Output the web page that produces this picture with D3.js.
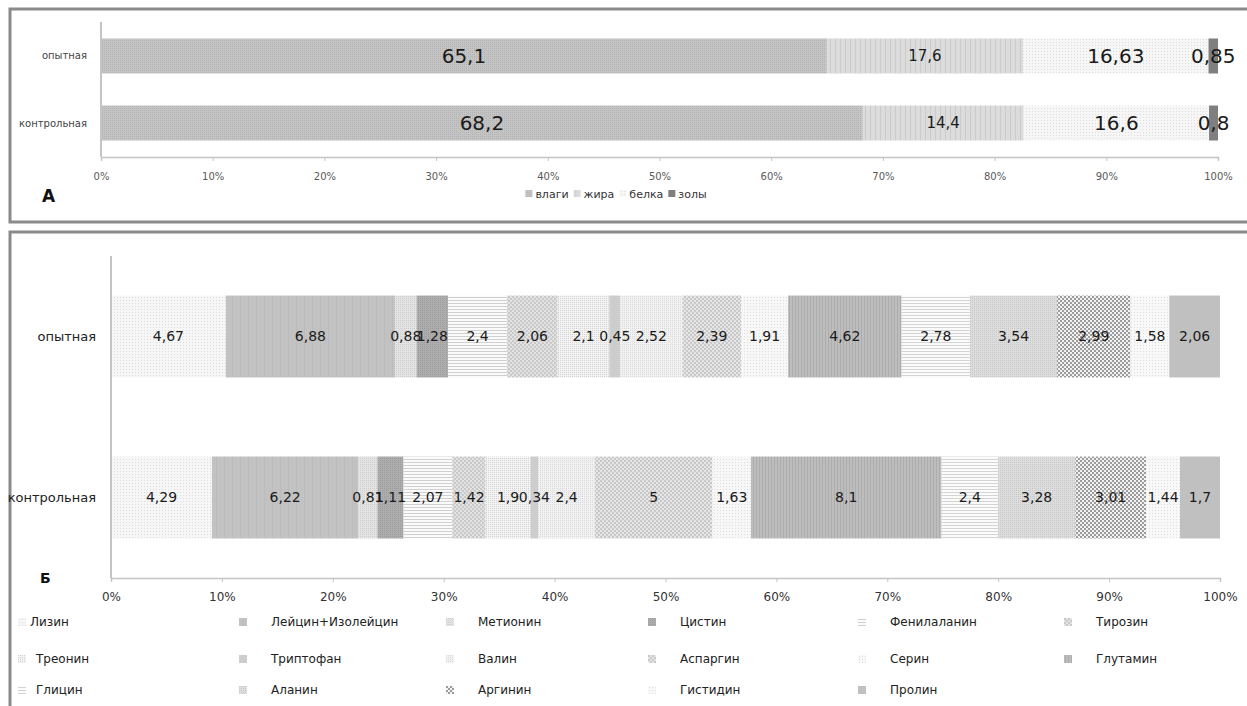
<!DOCTYPE html>
<html>
<head>
<meta charset="utf-8">
<script src="https://cdn.jsdelivr.net/npm/d3@7"></script>
<style>
	body { margin: 0; background: #fff; }
	svg { display: block; font-family: "DejaVu Sans", sans-serif; }
</style>
</head>
<body>
<svg id="chart" width="1247" height="706"></svg>
<script>
// -------------- DATA --------------
const groups = ["опытная", "контрольная"];

// panel A: composition
const partsA = ["влаги", "жира", "белка", "золы"];
const opytA = [65.1, 17.6, 16.63, 0.85];
const kontrA = [68.2, 14.4, 16.6, 0.8];

// panel B: amino acids
const amino = [
	"Лизин", "Лейцин+Изолейцин", "Метионин", "Цистин", "Фенилаланин", "Тирозин",
	"Треонин", "Триптофан", "Валин", "Аспаргин", "Серин", "Глутамин",
	"Глицин", "Аланин", "Аргинин", "Гистидин", "Пролин"
];
const opytB = [4.67, 6.88, 0.88, 1.28, 2.4, 2.06, 2.1, 0.45, 2.52, 2.39, 1.91, 4.62, 2.78, 3.54, 2.99, 1.58, 2.06];
const kontrB = [4.29, 6.22, 0.81, 1.11, 2.07, 1.42, 1.9, 0.34, 2.4, 5, 1.63, 8.1, 2.4, 3.28, 3.01, 1.44, 1.7];

const tickVals = [0, 0.1, 0.2, 0.3, 0.4, 0.5, 0.6, 0.7, 0.8, 0.9, 1];

// -------------- STYLES (pattern fills) --------------
const stylesA = [
	{ type: "dots", base: "#c4c4c4", ink: "#b3b3b3", s: 2 },
	{ type: "vlines", base: "#dcdcdc", ink: "#cbcbcb", s: 5 },
	{ type: "dots", base: "#f6f6f6", ink: "#dddddd", s: 3 },
	{ type: "solid", base: "#7f7f7f" }
];
const labelSizeA = [20, 15, 20, 20];

const stylesB = [
	{ type: "dots", base: "#f6f6f6", ink: "#dddddd", s: 3 },
	{ type: "vlines", base: "#c2c2c2", ink: "#bcbcbc", s: 8 },
	{ type: "dots", base: "#e3e3e3", ink: "#cdcdcd", s: 2 },
	{ type: "dots", base: "#adadad", ink: "#9c9c9c", s: 2 },
	{ type: "hlines", base: "#fbfbfb", ink: "#d0d0d0", s: 3 },
	{ type: "checker", base: "#e2e2e2", ink: "#c9c9c9", s: 2 },
	{ type: "dots", base: "#f3f3f3", ink: "#d3d3d3", s: 2 },
	{ type: "solid", base: "#cdcdcd" },
	{ type: "dots", base: "#f1f1f1", ink: "#dadada", s: 2 },
	{ type: "checker", base: "#e6e6e6", ink: "#c8c8c8", s: 2 },
	{ type: "dots", base: "#f7f7f7", ink: "#dfdfdf", s: 3 },
	{ type: "vlines", base: "#bdbdbd", ink: "#adadad", s: 3 },
	{ type: "hlines", base: "#fbfbfb", ink: "#d4d4d4", s: 3 },
	{ type: "dots", base: "#dddddd", ink: "#c8c8c8", s: 2 },
	{ type: "checker", base: "#f2f2f2", ink: "#9c9c9c", s: 2 },
	{ type: "dots", base: "#f8f8f8", ink: "#e0e0e0", s: 3 },
	{ type: "solid", base: "#c0c0c0" }
];

const svg = d3.select("#chart");
const defs = svg.append("defs");

function makePattern(id, st) {
	if (st.type === "solid") return st.base;
	let s = st.s;
	let size = st.type === "checker" ? s * 2 : s;
	let p = defs.append("pattern")
		.attr("id", id)
		.attr("patternUnits", "userSpaceOnUse")
		.attr("width", size)
		.attr("height", size);
	p.append("rect").attr("width", size).attr("height", size).attr("fill", st.base);
	if (st.type === "dots") {
		p.append("rect").attr("width", 1).attr("height", 1).attr("fill", st.ink);
	} else if (st.type === "hlines") {
		p.append("rect").attr("width", size).attr("height", 1).attr("fill", st.ink);
	} else if (st.type === "vlines") {
		p.append("rect").attr("width", 1).attr("height", size).attr("fill", st.ink);
	} else if (st.type === "checker") {
		p.append("rect").attr("width", s).attr("height", s).attr("fill", st.ink);
		p.append("rect").attr("x", s).attr("y", s).attr("width", s).attr("height", s).attr("fill", st.ink);
	}
	return `url(#${id})`;
}

const fillsA = stylesA.map((st, i) => makePattern(`pa${i}`, st));
const fillsB = stylesB.map((st, i) => makePattern(`pb${i}`, st));

const fmt = (v) => String(v).replace(".", ",");

// -------------- FRAMES --------------
svg.append("rect")
	.attr("x", 10).attr("y", 9).attr("width", 1260).attr("height", 213)
	.attr("fill", "none").attr("stroke", "#8a8a8a").attr("stroke-width", 3);
svg.append("rect")
	.attr("x", 10).attr("y", 232).attr("width", 1260).attr("height", 520)
	.attr("fill", "none").attr("stroke", "#8a8a8a").attr("stroke-width", 3);

// -------------- GENERIC STACKED BAR PANEL --------------
function drawPanel(cfg) {
	let rows = groups.map((g, gi) => {
		let o = { group: g };
		cfg.keys.forEach((k, ki) => (o[k] = cfg.values[gi][ki]));
		return o;
	});

	let stack = d3.stack().keys(cfg.keys).offset(d3.stackOffsetExpand);
	let series = stack(rows);
	let cells = series.flatMap((s) => s.map((v) => ({ v, key: s.key, idx: s.index })));

	let xScale = d3.scaleLinear().domain([0, 1]).range([cfg.x0, cfg.x1]);
	let yScale = d3.scaleBand().domain(groups).range([cfg.yTop, cfg.yBottom]).paddingInner(cfg.pad).paddingOuter(cfg.padOuter);

	let g = svg.append("g");

	// bars
	g.append("g")
		.selectAll("rect")
		.data(cells)
		.join("rect")
		.attr("x", (d) => xScale(d.v[0]))
		.attr("y", (d) => yScale(d.v.data.group))
		.attr("width", (d) => xScale(d.v[1]) - xScale(d.v[0]))
		.attr("height", yScale.bandwidth())
		.attr("fill", (d) => cfg.fills[d.idx]);

	// value labels (on top of all bars)
	g.append("g")
		.selectAll("text")
		.data(cells)
		.join("text")
		.attr("x", (d) => (xScale(d.v[0]) + xScale(d.v[1])) / 2)
		.attr("y", (d) => yScale(d.v.data.group) + yScale.bandwidth() / 2)
		.attr("dy", "0.35em")
		.attr("text-anchor", "middle")
		.attr("font-size", (d) => cfg.labelSize(d.idx))
		.attr("fill", "#1a1a1a")
		.text((d) => fmt(d.v.data[d.key]));

	// axes
	let xAxis = d3.axisBottom(xScale)
		.tickValues(tickVals)
		.tickFormat(d3.format(".0%"))
		.tickSize(4)
		.tickPadding(cfg.tickPad);
	let ax = g.append("g")
		.attr("transform", `translate(0, ${cfg.axisY})`)
		.call(xAxis);
	ax.select(".domain").attr("stroke", "#c4c4c4").attr("stroke-width", 1.5);
	ax.selectAll(".tick line").attr("stroke", "#c4c4c4");
	ax.selectAll(".tick text")
		.attr("font-family", "DejaVu Sans, sans-serif")
		.attr("font-size", cfg.tickSize)
		.attr("fill", cfg.tickColor);

	g.append("line")
		.attr("x1", cfg.x0).attr("x2", cfg.x0)
		.attr("y1", cfg.axisTop).attr("y2", cfg.axisY)
		.attr("stroke", "#c4c4c4").attr("stroke-width", 2);

	// category labels
	g.selectAll("text.cat")
		.data(groups)
		.join("text")
		.attr("class", "cat")
		.attr("x", cfg.x0 - cfg.catGap)
		.attr("y", (d) => yScale(d) + yScale.bandwidth() / 2)
		.attr("dy", "0.35em")
		.attr("text-anchor", "end")
		.attr("font-size", cfg.catSize)
		.attr("fill", cfg.catColor)
		.text((d) => d);

	return g;
}

// -------------- PANEL A --------------
drawPanel({
	keys: partsA,
	values: [opytA, kontrA],
	fills: fillsA,
	labelSize: (i) => labelSizeA[i],
	x0: 101, x1: 1218,
	yTop: 22, yBottom: 157, pad: 0.478, padOuter: 0.246,
	axisY: 157, axisTop: 22,
	tickSize: 10, tickPad: 12, tickColor: "#595959",
	catGap: 14, catSize: 10, catColor: "#444"
});

svg.append("text")
	.attr("x", 42).attr("y", 202)
	.attr("font-size", 17).attr("font-weight", "bold").attr("fill", "#111")
	.text("А");

// legend A (centered)
{
	let lg = svg.append("g");
	let x = 0;
	partsA.forEach((name, i) => {
		lg.append("rect").attr("x", x).attr("y", -4).attr("width", 7).attr("height", 7).attr("fill", fillsA[i]);
		let t = lg.append("text")
			.attr("x", x + 10).attr("y", 0).attr("dy", "0.35em")
			.attr("font-size", 11).attr("fill", "#333")
			.text(name);
		x += 10 + t.node().getComputedTextLength() + 5;
	});
	lg.attr("transform", `translate(${616 - (x - 5) / 2}, 194)`);
}

// -------------- PANEL B --------------
drawPanel({
	keys: amino,
	values: [opytB, kontrB],
	fills: fillsB,
	labelSize: () => 14,
	x0: 111, x1: 1220,
	yTop: 256, yBottom: 578, pad: 0.491, padOuter: 0.2455,
	axisY: 578, axisTop: 256,
	tickSize: 12, tickPad: 10, tickColor: "#333",
	catGap: 15, catSize: 13, catColor: "#222"
});

svg.append("text")
	.attr("x", 40).attr("y", 583)
	.attr("font-size", 14).attr("font-weight", "bold").attr("fill", "#111")
	.text("Б");

// legend B: 6 columns, 3 rows
{
	let colX = [22, 243, 450, 652, 862, 1068];
	let rowY = [622, 659, 690];
	let lg = svg.append("g");
	let items = lg.selectAll("g")
		.data(amino)
		.join("g")
		.attr("transform", (d, i) => `translate(${colX[i % 6]}, ${rowY[Math.floor(i / 6)]})`);
	items.append("rect")
		.attr("x", -4).attr("y", -4).attr("width", 8).attr("height", 8)
		.attr("fill", (d, i) => fillsB[i]);
	items.append("text")
		.attr("x", (d, i) => (i % 6 === 0 ? (i === 0 ? 8 : 14) : 28))
		.attr("dy", "0.35em")
		.attr("font-size", 12)
		.attr("fill", "#222")
		.text((d) => d);
}
</script>
</body>
</html>
